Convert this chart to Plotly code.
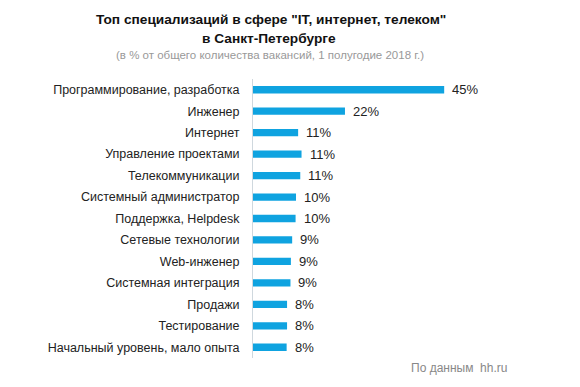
import plotly.graph_objects as go

categories = [
    "Программирование, разработка",
    "Инженер",
    "Интернет",
    "Управление проектами",
    "Телекоммуникации",
    "Системный администратор",
    "Поддержка, Helpdesk",
    "Сетевые технологии",
    "Web-инженер",
    "Системная интеграция",
    "Продажи",
    "Тестирование",
    "Начальный уровень, мало опыта",
]
values = [44.9, 21.6, 10.6, 11.4, 11.1, 10.1, 10.0, 9.2, 8.9, 8.8, 8.0, 8.0, 7.9]
value_labels = ["45%", "22%", "11%", "11%", "11%", "10%", "10%", "9%", "9%", "9%", "8%", "8%", "8%"]

FONT = "Liberation Sans, Arial, sans-serif"
BAR = "#0fa3e0"

# page body has an 8px margin; figure coordinates = reference coordinates - 8
OFF = 8
W, H = 580 - OFF, 387 - OFF
L, R, T, B = 253 - OFF, 20, 79 - OFF, 29

fig = go.Figure()
fig.add_trace(go.Bar(
    x=values, y=categories, orientation="h",
    marker=dict(color=BAR, line=dict(width=0)),
    width=0.34, hoverinfo="skip",
))

for v, c, lab in zip(values, categories, value_labels):
    fig.add_annotation(x=v, y=c, text=lab, showarrow=False, xanchor="left",
                       xshift=6, font=dict(family=FONT, size=13, color="#222"))

fig.update_layout(
    width=W, height=H,
    margin=dict(l=L, r=R, t=T, b=B, autoexpand=False),
    paper_bgcolor="white", plot_bgcolor="white",
    showlegend=False,
    font=dict(family=FONT, size=12, color="#222"),
    xaxis=dict(range=[0, 72.1], visible=False, fixedrange=True),
    yaxis=dict(autorange="reversed", showline=True, linecolor="#cfd8de", linewidth=1,
               ticks="", showgrid=False, ticklabelstandoff=10, automargin=False,
               tickfont=dict(family=FONT, size=12.5, color="#222")),
)

plot_h = H - T - B
plot_w = W - L - R
def py(pix):
    return (H - B - (pix - OFF)) / plot_h
def px(pix):
    return ((pix - OFF) - L) / plot_w

fig.add_annotation(xref="paper", yref="paper", x=px(271), y=py(20), yanchor="middle", xanchor="center",
                   text="<b>Топ специализаций в сфере \"IT, интернет, телеком\"</b>", showarrow=False,
                   font=dict(family=FONT, size=13.7, color="#111"))
fig.add_annotation(xref="paper", yref="paper", x=px(269), y=py(38), yanchor="middle", xanchor="center",
                   text="<b>в Санкт-Петербурге</b>", showarrow=False,
                   font=dict(family=FONT, size=13.7, color="#111"))
fig.add_annotation(xref="paper", yref="paper", x=px(270), y=py(55), yanchor="middle", xanchor="center",
                   text="(в % от общего количества вакансий, 1 полугодие 2018 г.)", showarrow=False,
                   font=dict(family=FONT, size=11.5, color="#999"))
fig.add_annotation(xref="paper", yref="paper", x=px(459), y=py(368), yanchor="middle", xanchor="center",
                   text="По данным  hh.ru", showarrow=False,
                   font=dict(family=FONT, size=12, color="#888"))

fig.write_html("out.html")
